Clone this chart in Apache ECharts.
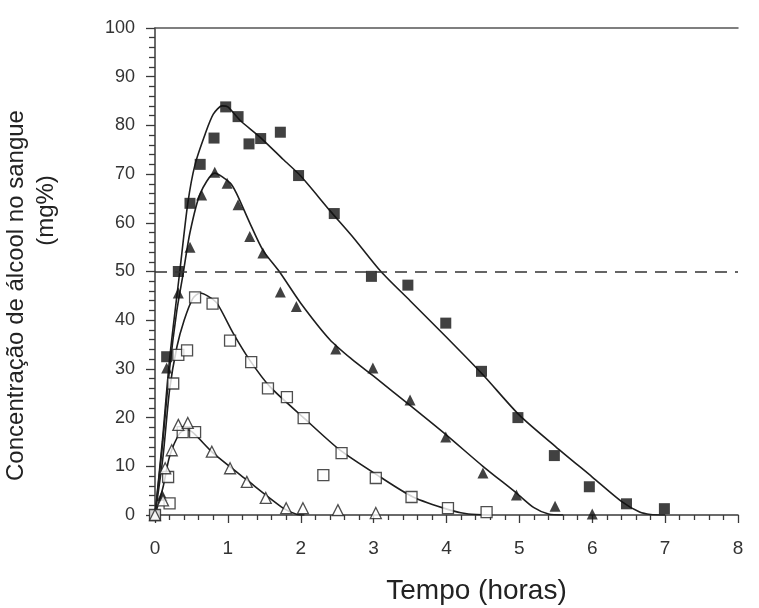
<!DOCTYPE html>
<html>
<head>
<meta charset="utf-8">
<script src="https://cdn.jsdelivr.net/npm/echarts@6/dist/echarts.min.js"></script>
<style>
html, body { margin: 0; padding: 0; background: #fff; }
#main { width: 759px; height: 608px; }
</style>
</head>
<body>
<div id="main"></div>
<script>
// pontos medidos [tempo (h), concentração (mg%)]
const quadCheio = [[0,0],[0.16,32.5],[0.32,50],[0.48,64],[0.62,72],[0.81,77.4],[0.97,83.8],[1.14,81.8],[1.29,76.2],[1.45,77.3],[1.72,78.6],[1.97,69.7],[2.46,61.9],[2.97,49],[3.47,47.2],[3.99,39.4],[4.48,29.5],[4.98,20],[5.48,12.2],[5.96,5.8],[6.47,2.3],[6.99,1.3]];
const triCheio = [[0,0],[0.1,4],[0.16,30.2],[0.32,45.6],[0.48,55],[0.64,65.7],[0.82,70.4],[0.99,68.1],[1.14,63.7],[1.3,57.2],[1.48,53.8],[1.72,45.8],[1.94,42.8],[2.48,34.1],[2.99,30.2],[3.5,23.6],[3.99,16],[4.5,8.6],[4.96,4.1],[5.49,1.8],[6.0,0.2]];
const quadVazio = [[0,0],[0.2,2.4],[0.18,7.8],[0.25,27],[0.32,32.9],[0.44,33.8],[0.38,17],[0.55,17],[0.55,44.7],[0.79,43.4],[1.03,35.8],[1.32,31.4],[1.55,26],[1.81,24.2],[2.04,19.9],[2.31,8.2],[2.56,12.7],[3.03,7.6],[3.52,3.7],[4.02,1.4],[4.55,0.6]];
const triVazio = [[0,0],[0.11,3],[0.14,9.6],[0.23,13.3],[0.32,18.5],[0.45,18.9],[0.78,13],[1.03,9.6],[1.26,6.8],[1.52,3.5],[1.8,1.4],[2.03,1.4],[2.51,1],[3.03,0.4]];

// curvas ajustadas
const curvaA = [[0,0],[0.1,15],[0.2,32],[0.34,50],[0.45,64],[0.55,72],[0.69,78.3],[0.8,82.3],[0.92,84],[1.0,83.8],[1.17,81],[1.44,77.6],[1.76,73],[2.0,69.6],[2.4,62.5],[2.72,57],[3.1,50],[3.5,44],[4,36.5],[4.5,28.8],[5,20.5],[5.5,14],[6,7.8],[6.4,2.8],[6.65,0.6],[6.8,0.1],[7,0]];
const curvaB = [[0,0],[0.1,14],[0.2,30],[0.3,42],[0.38,49],[0.48,58],[0.62,66],[0.82,70.2],[1.03,68.2],[1.12,66],[1.3,60],[1.48,54.4],[1.71,49.9],[2.0,43.5],[2.4,36],[2.7,32],[3,28.5],[3.5,22.5],[4,16.4],[4.5,10],[4.96,4.5],[5.2,1.5],[5.4,0.2],[5.6,0]];
const curvaC = [[0,0],[0.11,12],[0.2,25.7],[0.3,34.5],[0.4,40],[0.52,44.5],[0.62,45.6],[0.72,45],[0.85,43.5],[1.07,37.4],[1.3,31.8],[1.58,26.3],[2.03,20.1],[2.54,13.3],[3.09,7.8],[3.54,3.7],[4.05,1],[4.3,0.2],[4.6,0]];
const curvaD = [[0,0],[0.11,5.7],[0.2,12],[0.34,16.8],[0.44,17.5],[0.53,16.8],[0.8,12.7],[1.26,7.2],[1.76,1.4],[1.95,0.1],[2.05,0]];

const limite = 50;

let chart = echarts.init(document.getElementById('main'));

const fonte = 'Liberation Sans, Arial, sans-serif';
const corEixo = '#3a3a3a';

const curva = (dados) => ({
    type: 'line',
    data: dados,
    smooth: 0.25,
    showSymbol: false,
    silent: true,
    lineStyle: { color: '#1e1e1e', width: 1.6 },
    z: 2
});

const pontos = (dados, simbolo, cheio) => ({
    type: 'scatter',
    data: dados,
    symbol: simbolo,
    symbolSize: 11,
    itemStyle: {
        color: cheio ? '#111' : '#fff',
        borderColor: '#222',
        borderWidth: cheio ? 0 : 1.3
    },
    z: 3
});

let option = {
    backgroundColor: '#fff',
    animation: false,
    grid: { left: 155, right: 21, top: 28, bottom: 93, containLabel: false, outerBoundsMode: 'none' },
    xAxis: [{
        type: 'value',
        min: 0, max: 8, interval: 1,
        name: 'Tempo (horas)',
        nameLocation: 'middle',
        nameGap: 62,
        nameTextStyle: { fontFamily: fonte, fontSize: 28, color: '#222', padding: [0, 0, 0, 60] },
        axisLine: { lineStyle: { color: corEixo, width: 1.5 } },
        axisTick: { length: 8, lineStyle: { color: corEixo, width: 1.3 } },
        minorTick: { show: true, splitNumber: 5, length: 5, lineStyle: { color: corEixo, width: 1.3 } },
        axisLabel: { fontFamily: fonte, fontSize: 19, color: '#333', margin: 24 },
        splitLine: { show: false }
    }, {
        type: 'value',
        position: 'top',
        min: 0, max: 8,
        axisLine: { show: true, lineStyle: { color: '#555', width: 1.5 } },
        axisTick: { show: false },
        axisLabel: { show: false },
        splitLine: { show: false }
    }],
    yAxis: {
        type: 'value',
        min: 0, max: 100, interval: 10,
        name: '{a|Concentração de álcool no sangue}\n{b|(mg%)}',
        nameLocation: 'middle',
        nameRotate: 90,
        nameGap: 94,
        nameTextStyle: {
            fontFamily: fonte, fontSize: 24, color: '#222', lineHeight: 30, align: 'center',
            padding: [0, 48, 0, 0],
            rich: {
                a: { fontFamily: fonte, fontSize: 24, color: '#222', lineHeight: 30 },
                b: { fontFamily: fonte, fontSize: 24, color: '#222', lineHeight: 30, padding: [0, 0, 0, 170] }
            }
        },
        axisLine: { show: true, lineStyle: { color: corEixo, width: 1.5 } },
        axisTick: { show: true, length: 9, lineStyle: { color: corEixo, width: 1.3 } },
        minorTick: { show: true, splitNumber: 5, length: 6, lineStyle: { color: corEixo, width: 1.3 } },
        axisLabel: { fontFamily: fonte, fontSize: 18, color: '#333', margin: 20 },
        splitLine: { show: false }
    },
    series: [
        Object.assign(curva(curvaA), {
            markLine: {
                silent: true,
                symbol: 'none',
                label: { show: false },
                lineStyle: { color: '#333', type: [12, 8], width: 1.5 },
                data: [{ yAxis: limite }]
            }
        }),
        curva(curvaB),
        curva(curvaC),
        curva(curvaD),
        pontos(quadCheio, 'rect', true),
        pontos(triCheio, 'triangle', true),
        pontos(quadVazio, 'rect', false),
        pontos(triVazio, 'triangle', false)
    ]
};

chart.setOption(option);
</script>
</body>
</html>
